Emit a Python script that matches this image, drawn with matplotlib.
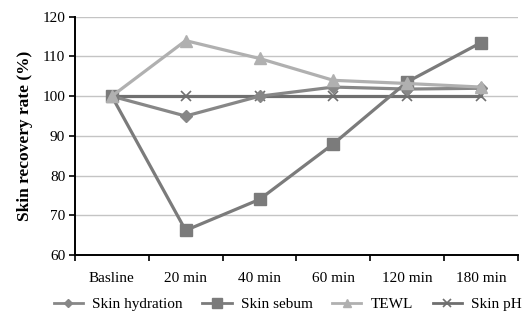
import matplotlib
matplotlib.use("Agg")
import matplotlib.pyplot as plt
from matplotlib.ticker import FixedLocator
from matplotlib.lines import Line2D

plt.rcParams['font.family'] = ['Liberation Serif', 'DejaVu Serif']

categories = ["Basline", "20 min", "40 min", "60 min", "120 min", "180 min"]
skin_hydration = [100, 95, 100, 102.3, 101.8, 102.0]
skin_sebum = [100, 66.2, 74.0, 88.0, 103.6, 113.5]
tewl = [100, 114.0, 109.5, 104.0, 103.2, 102.3]
skin_ph = [100, 100, 100, 100, 100, 100]

fig = plt.figure(figsize=(5.31, 3.23), dpi=100)
ax = fig.add_axes([0.141, 0.2105, 0.8345, 0.7375])

x = list(range(len(categories)))
lw = 2.3
styles = {
    "Skin pH": dict(color="#6f6f6f", marker="x", ms=7, mew=1.2),
    "Skin hydration": dict(color="#878787", marker="D", ms=6),
    "Skin sebum": dict(color="#7b7b7b", marker="s", ms=8),
    "TEWL": dict(color="#b0b0b0", marker="^", ms=8),
}
series = {"Skin pH": skin_ph, "Skin hydration": skin_hydration,
          "Skin sebum": skin_sebum, "TEWL": tewl}
for z, (name, vals) in enumerate(series.items()):
    ax.plot(x, vals, lw=lw, zorder=3 + z, **styles[name])

ax.set_xlim(-0.5, len(categories) - 0.5)
ax.set_ylim(60, 120)
ax.set_yticks(range(60, 121, 10))
ax.set_xticks(x)
ax.set_xticklabels(categories)
ax.xaxis.set_minor_locator(FixedLocator([i - 0.5 for i in range(len(categories) + 1)]))
ax.tick_params(axis="x", which="major", length=0, pad=12, labelsize=11)
ax.tick_params(axis="x", which="minor", length=4, width=1.2, color="black", direction="out")
ax.tick_params(axis="y", length=4, width=1.2, labelsize=11, pad=3)

ax.grid(axis="y", color="#c4c4c4", lw=1.0, zorder=0)
ax.set_axisbelow(True)
for s in ("top", "right"):
    ax.spines[s].set_visible(False)
for s in ("left", "bottom"):
    ax.spines[s].set_linewidth(1.4)
    ax.spines[s].set_color("black")

ax.set_ylabel("Skin recovery rate (%)", fontsize=12.5, fontweight="bold", labelpad=7)

order = ["Skin hydration", "Skin sebum", "TEWL", "Skin pH"]
legend_ms = {"Skin hydration": 4, "Skin sebum": 6.5, "TEWL": 6, "Skin pH": 5.5}
handles = []
for name in order:
    st = dict(styles[name])
    st["ms"] = legend_ms[name]
    handles.append(Line2D([], [], lw=2.0, **st))
fig.legend(handles, order, loc="center", ncol=4,
           bbox_to_anchor=(0.542, 0.057), frameon=False, fontsize=11,
           handlelength=1.9, columnspacing=1.3, handletextpad=0.6)

fig.savefig("out.png", dpi=100)
